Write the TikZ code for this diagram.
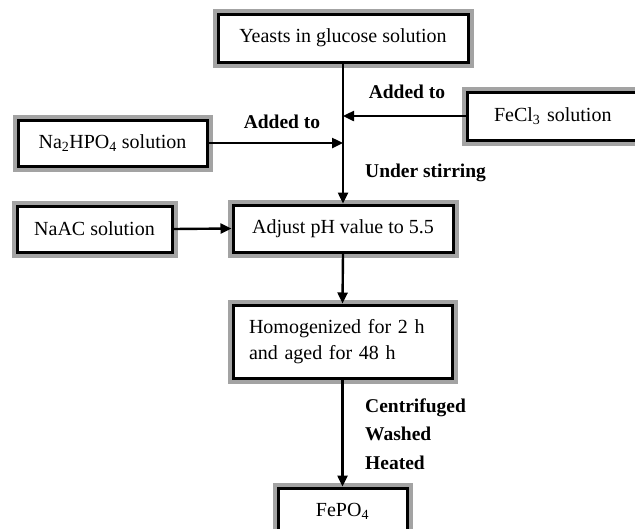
\documentclass[tikz,border=0pt]{standalone}
\usepackage{fontspec}
\setmainfont{Liberation Serif}
\usetikzlibrary{arrows.meta}
\begin{document}
\begin{tikzpicture}[x=1pt,y=-1pt,
  stepbox/.style={
    preaction={draw=black!36, line width=11pt},
    fill=white, draw=black, line width=3pt,
    inner sep=0pt, font=\fontsize{20}{24}\selectfont},
  flow/.style={line width=2.4pt, -{Triangle[length=11pt,width=10pt]}},
  tag/.style={font=\fontsize{19.5}{28.5}\selectfont\bfseries, inner sep=0pt}]
\clip (0,0) rectangle (635,528);
\fill[white] (0,0) rectangle (635,528);

% process boxes
\node[stepbox, minimum width=250pt, minimum height=48pt] (yeast) at (343,38) {Yeasts in glucose solution};
\node[stepbox, minimum width=193pt, minimum height=48pt, text width=193pt, align=left] (fecl) at (563.5,116)
  {\hspace*{27pt}FeCl\textsubscript{3} solution};
\node[stepbox, minimum width=189pt, minimum height=46pt] (naph) at (112.5,143) {Na\textsubscript{2}HPO\textsubscript{4} solution};
\node[stepbox, minimum width=155pt, minimum height=46pt] (naac) at (94.5,229) {NaAC solution};
\node[stepbox, minimum width=220pt, minimum height=47pt] (ph) at (343,228.5) {Adjust pH value to 5.5};
\node[stepbox, minimum height=73pt, inner xsep=16pt, text width=187pt, align=left] (homog) at (342.5,341.5)
  {Homogenized for 2 h\\[2pt]and aged for 48 h};
\node[stepbox, minimum width=129pt, minimum height=47pt] (fepo) at (342.5,511.5) {FePO\textsubscript{4}};

% junctions on the main line
\coordinate (j1) at (yeast.south |- fecl.west);
\coordinate (j2) at (yeast.south |- naph.east);

% connectors
\draw[flow] (yeast.south) -- (ph.north);
\draw[flow] (fecl.west) -- (j1);
\draw[flow] (naph.east) -- (j2);
\draw[flow] (naac.east) -- (ph.west);
\draw[flow] (ph.south) -- (homog.north);
\draw[flow] (homog.south) -- (fepo.north);

% step labels
\node[tag] (lab1) at (407,92) {Added to};
\node[tag] (lab2) at (282,122) {Added to};
\node[tag, anchor=west] (lab3) at (365,173) {Under stirring};
\node[tag, anchor=west, align=left] (lab4) at (365,434) {Centrifuged\\Washed\\Heated};
\end{tikzpicture}
\end{document}
